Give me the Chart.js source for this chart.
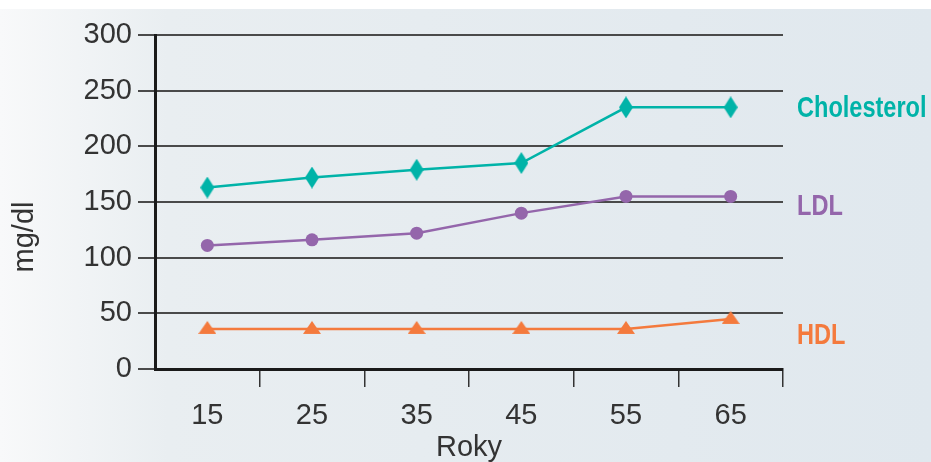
<!DOCTYPE html>
<html>
<head>
<meta charset="utf-8">
<script src="https://cdn.jsdelivr.net/npm/chart.js@4"></script>
<style>
  html, body { margin: 0; padding: 0; background: #ffffff; }
  #wrap { position: relative; width: 931px; height: 462px; }
  canvas { display: block; }
</style>
</head>
<body>
<div id="wrap"><canvas id="c" width="931" height="462"></canvas></div>
<script>
const categories = ['15', '25', '35', '45', '55', '65'];
const cholesterol = [163, 172, 179, 185, 235, 235];
const ldl = [111, 116, 122, 140, 155, 155];
const hdl = [36, 36, 36, 36, 36, 45];
const seriesNames = ['Cholesterol', 'LDL', 'HDL'];
const yTicks = [0, 50, 100, 150, 200, 250, 300];

const TEAL = '#00b3a8';
const PURPLE = '#9466ab';
const ORANGE = '#f47a3d';
const TEXT = '#333333';
const FONT = '"Liberation Sans", Arial, sans-serif';

function makeDiamond(color) {
  const c = document.createElement('canvas');
  c.width = 14; c.height = 22;
  const g = c.getContext('2d');
  g.fillStyle = color;
  g.beginPath();
  g.moveTo(7, 0); g.lineTo(14, 11); g.lineTo(7, 22); g.lineTo(0, 11);
  g.closePath(); g.fill();
  return c;
}
function makeTriangle(color) {
  const c = document.createElement('canvas');
  c.width = 18; c.height = 18;
  const g = c.getContext('2d');
  g.fillStyle = color;
  g.beginPath();
  g.moveTo(9, 1); g.lineTo(18, 14); g.lineTo(0, 14);
  g.closePath(); g.fill();
  return c;
}

const bgPlugin = {
  id: 'bg',
  beforeDraw(chart) {
    const ctx = chart.ctx;
    const w = chart.width, h = chart.height;
    ctx.save();
    ctx.fillStyle = '#ffffff';
    ctx.fillRect(0, 0, w, h);
    const grad = ctx.createLinearGradient(0, 0, w, 0);
    grad.addColorStop(0, '#f8f9fa');
    grad.addColorStop(0.18, '#e9eef1');
    grad.addColorStop(1, '#e0e8ee');
    ctx.fillStyle = grad;
    ctx.fillRect(0, 9, w, h - 9);
    ctx.restore();
  }
};

const labelPlugin = {
  id: 'seriesLabels',
  afterDraw(chart) {
    const ctx = chart.ctx;
    const area = chart.chartArea;
    const y = chart.scales.y;
    ctx.save();
    ctx.fillStyle = TEXT;
    ctx.font = '29px ' + FONT;
    ctx.textAlign = 'center';
    ctx.textBaseline = 'middle';
    ctx.translate(25, 237);
    ctx.rotate(-Math.PI / 2);
    ctx.fillText('mg/dl', 0, 0);
    ctx.restore();

    const x = area.right + 14;
    chart.data.datasets.forEach((ds, i) => {
      const last = ds.data[ds.data.length - 1];
      const offs = [1, 10, 17][i];
      ctx.save();
      ctx.font = 'bold 30px ' + FONT;
      ctx.textAlign = 'left';
      ctx.textBaseline = 'middle';
      ctx.fillStyle = ds.borderColor;
      ctx.translate(x, y.getPixelForValue(last) + offs);
      ctx.scale(0.785, 1);
      ctx.fillText(ds.label, 0, 0);
      ctx.restore();
    });
  }
};

new Chart(document.getElementById('c'), {
  type: 'line',
  data: {
    labels: categories,
    datasets: [
      { label: seriesNames[0], data: cholesterol, borderColor: TEAL, backgroundColor: TEAL,
        borderWidth: 2.5, pointStyle: makeDiamond(TEAL), pointRadius: 8 },
      { label: seriesNames[1], data: ldl, borderColor: PURPLE, backgroundColor: PURPLE,
        borderWidth: 2.5, pointStyle: 'circle', pointRadius: 6.5, pointBorderWidth: 0 },
      { label: seriesNames[2], data: hdl, borderColor: ORANGE, backgroundColor: ORANGE,
        borderWidth: 2.5, pointStyle: makeTriangle(ORANGE), pointRadius: 8 }
    ]
  },
  options: {
    responsive: false,
    animation: false,
    devicePixelRatio: 1,
    layout: { padding: { left: 0, right: 148, top: 35, bottom: 0 } },
    plugins: { legend: { display: false }, tooltip: { enabled: false } },
    scales: {
      x: {
        offset: true,
        grid: {
          offset: true,
          drawOnChartArea: false,
          drawTicks: true,
          tickLength: 18,
          lineWidth: 1.5,
          color: (ctx) => ctx.index === 0 ? 'rgba(0,0,0,0)' : '#333333'
        },
        border: { display: true, color: '#1a1a1a', width: 3 },
        ticks: {
          color: TEXT,
          padding: 12,
          font: { family: FONT, size: 29 }
        },
        title: {
          display: true, text: 'Roky', color: TEXT,
          font: { family: FONT, size: 29 },
          padding: { top: 0, bottom: -3 }
        },
        afterFit(scale) { scale.height = 93; }
      },
      y: {
        min: 0, max: 300,
        afterBuildTicks(scale) { scale.ticks = yTicks.map(v => ({ value: v })); },
        grid: {
          drawOnChartArea: true,
          drawTicks: true,
          tickLength: 17,
          lineWidth: 2,
          color: '#4a4a4a'
        },
        border: { display: true, color: '#1a1a1a', width: 3 },
        ticks: {
          color: TEXT,
          padding: 6,
          font: { family: FONT, size: 29 }
        },
        afterFit(scale) { scale.width = 155; }
      }
    }
  },
  plugins: [bgPlugin, labelPlugin]
});
</script>
</body>
</html>
